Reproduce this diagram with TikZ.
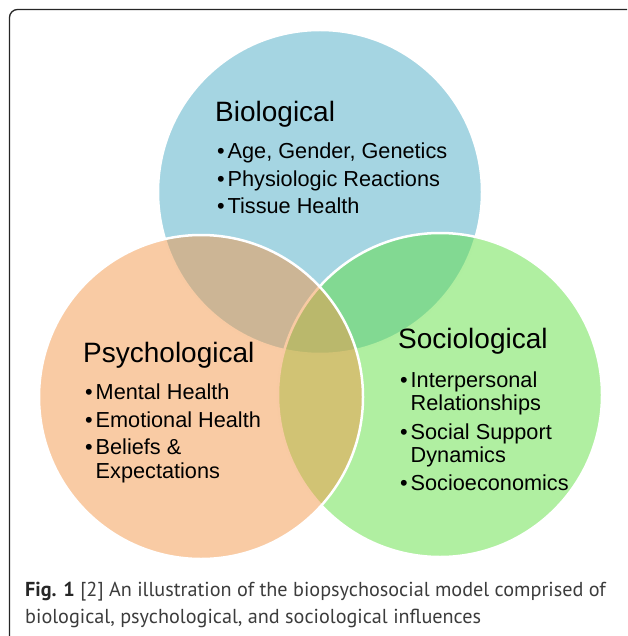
\documentclass[tikz,border=0pt]{standalone}
\usepackage{fontspec}
\setmainfont{Liberation Sans}
\newfontfamily\capfont{PT Sans}
\usepackage{tikz}
\usetikzlibrary{positioning}
\definecolor{bioblue}{RGB}{75,171,197}
\definecolor{socgreen}{RGB}{97,223,67}
\definecolor{psyorange}{RGB}{243,151,73}
\definecolor{capgray}{RGB}{60,60,60}
\newcommand{\vbul}{\makebox[10.5pt][l]{\textbullet}}

\begin{document}
\begin{tikzpicture}[x=1pt,y=-1pt]
	\tikzset{
		sphere/.style={circle,draw=white,line width=2.5pt,minimum size=324pt,inner sep=0,fill opacity=0.5,draw opacity=1},
		%
		heading/.style={anchor=base west,inner sep=0,font=\fontsize{28}{30}\selectfont},
		point/.style={anchor=base west,inner sep=0,font=\fontsize{21.7}{24}\selectfont},
		caption/.style={anchor=base west,inner sep=0,text=capgray,font=\capfont\fontsize{20.2}{22}\selectfont},
		frame/.style={line width=1.3pt,draw=black!85,rounded corners=8pt}
	}
	
	\useasboundingbox (0,0) rectangle (627,636);
	
	\draw[frame] (9.5,636) -- (9.5,9.5) -- (627,9.5);
	
	% circles, drawn in this order
	\foreach \name/\col/\cx/\cy in {bio/bioblue/320/192, soc/socgreen/440/395, psy/psyorange/201/397}
	\node[sphere,fill=\col] (\name) at (\cx,\cy) {};
	
	\node[heading] (biohead) at (215,122) {Biological};
	\foreach \y/\txt [count=\i] in {159/{Age, Gender, Genetics}, 187/{Physiologic Reactions}, 214/{Tissue Health}}
	\node[point] (bio\i) at (217,\y) {\vbul\txt};
	
	\node[heading] (psyhead) at (83,362) {Psychological};
	\node[point] (psy1) at (85,399) {\vbul Mental Health};
	\node[point] (psy2) at (85,427) {\vbul Emotional Health};
	\node[point] (psy3) at (85,454) {\vbul Beliefs \&};
	\node[point] (psy3b) at (95.5,478) {Expectations};
	
	\node[heading] (sochead) at (398,348) {Sociological};
	\node[point] (soc1) at (400,387) {\vbul Interpersonal};
	\node[point] (soc1b) at (410.5,410) {Relationships};
	\node[point] (soc2) at (400,439) {\vbul Social Support};
	\node[point] (soc2b) at (410.5,462) {Dynamics};
	\node[point] (soc3) at (400,490) {\vbul Socioeconomics};
	
	% caption
	\node[caption] (cap1) at (25,596) {\textbf{\color{black!85}Fig. 1} [2] An illustration of the biopsychosocial model comprised of};
	\node[caption] (cap2) at (25,623) {biological, psychological, and sociological influences};
\end{tikzpicture}
\end{document}
